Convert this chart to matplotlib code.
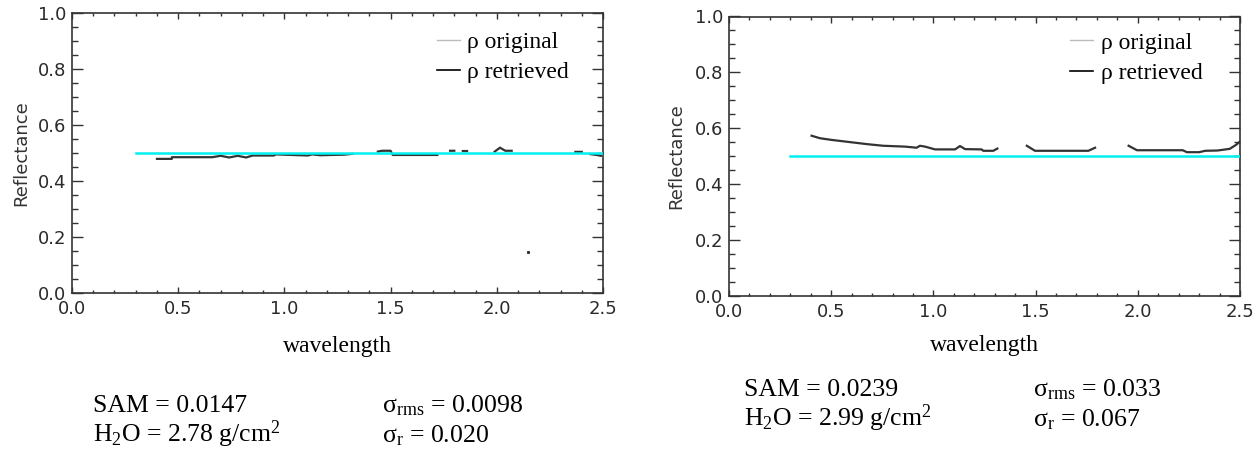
import numpy as np
import matplotlib
matplotlib.use("Agg")
import matplotlib.pyplot as plt
from matplotlib.lines import Line2D
from matplotlib.ticker import MultipleLocator, FormatStrFormatter

plt.rcParams['mathtext.fontset'] = 'custom'
plt.rcParams['mathtext.rm'] = 'Liberation Serif'
plt.rcParams['mathtext.it'] = 'Liberation Serif:italic'

nan = np.nan

# ---- data ----
orig_w = [0.30, 2.50]
orig_r = [0.50, 0.50]

left_w = [0.40, 0.47, 0.47, 0.66, 0.70, 0.74, 0.78, 0.82, 0.85, 0.95, 0.96, 1.11, 1.13, 1.17,
          1.22, 1.28, 1.32, nan, 1.44, 1.46, 1.50, 1.51, 1.72, nan, 1.78, 1.80, nan, 1.84, 1.86,
          nan, 1.99, 2.015, 2.04, 2.07, nan, 2.37, 2.40, nan, 2.44, 2.47, 2.49]
left_r = [0.479, 0.479, 0.485, 0.485, 0.490, 0.484, 0.490, 0.484, 0.491, 0.491, 0.495, 0.491,
          0.495, 0.492, 0.493, 0.494, 0.497, nan, 0.505, 0.508, 0.508, 0.493, 0.493, nan, 0.508,
          0.508, nan, 0.507, 0.507, nan, 0.505, 0.519, 0.508, 0.508, nan, 0.504, 0.504, nan,
          0.496, 0.493, 0.490]
left_stray_w = [2.147]
left_stray_r = [0.147]

right_w = [0.404, 0.445, 0.502, 0.559, 0.616, 0.673, 0.755, 0.861, 0.918, 0.934, 0.959, 1.008,
           1.106, 1.130, 1.155, 1.236, 1.244, 1.293, 1.313, nan,
           1.457, 1.497, 1.758, 1.791, nan,
           1.955, 1.996, 2.22, 2.24, 2.30, 2.33, 2.39, 2.45, 2.48, 2.50]
right_r = [0.573, 0.564, 0.558, 0.553, 0.548, 0.543, 0.537, 0.534, 0.530, 0.537, 0.534, 0.524,
           0.524, 0.536, 0.525, 0.524, 0.519, 0.519, 0.527, nan,
           0.537, 0.519, 0.519, 0.530, nan,
           0.537, 0.521, 0.521, 0.514, 0.514, 0.519, 0.520, 0.526, 0.540, 0.552]

legend_labels = ["ρ original", "ρ retrieved"]
left_stats = ["SAM = 0.0147", "H$_2$O = 2.78 g/cm$^2$", "σ$_{\\rm rms}$ = 0.0098", "σ$_{\\rm r}$ = 0.020"]
right_stats = ["SAM = 0.0239", "H$_2$O = 2.99 g/cm$^2$", "σ$_{\\rm rms}$ = 0.033", "σ$_{\\rm r}$ = 0.067"]

W, H = 1260, 450
fig = plt.figure(figsize=(12.6, 4.5), dpi=100)

def make_axes(rect_px, ylab_x, xlab_y, leg_anchor):
    x0, y0, x1, y1 = rect_px
    ax = fig.add_axes([x0 / W, 1 - y1 / H, (x1 - x0) / W, (y1 - y0) / H])
    ax.set_xlim(0, 2.5)
    ax.set_ylim(0, 1.0)
    ax.xaxis.set_major_locator(MultipleLocator(0.5))
    ax.xaxis.set_minor_locator(MultipleLocator(0.1))
    ax.yaxis.set_major_locator(MultipleLocator(0.2))
    ax.yaxis.set_minor_locator(MultipleLocator(0.05))
    ax.xaxis.set_major_formatter(FormatStrFormatter('%.1f'))
    ax.yaxis.set_major_formatter(FormatStrFormatter('%.1f'))
    ax.tick_params(which='both', direction='in', top=True, right=True, color='#333333',
                   width=1.0, labelcolor='#2a2a2a', labelsize=13)
    ax.tick_params(axis='y', which='major', length=8, pad=4)
    ax.tick_params(axis='y', which='minor', length=4)
    ax.tick_params(axis='x', which='major', length=4.5, pad=5)
    ax.tick_params(axis='x', which='minor', length=2.3)
    for s in ax.spines.values():
        s.set_color('#333333')
        s.set_linewidth(1.2)
    ax.set_ylabel("Reflectance", fontsize=13, family='DejaVu Sans', color='#333333')
    ax.yaxis.set_label_coords(ylab_x, 0.5)
    ax.yaxis.label.set_va('center')
    ax.set_xlabel("wavelength", fontsize=17, family='Liberation Serif')
    ax.xaxis.set_label_coords(0.5, xlab_y)
    ax.xaxis.label.set_va('center')
    handles = [Line2D([], [], color='#bbbbbb', lw=1.0), Line2D([], [], color='black', lw=1.2)]
    ax.legend(handles, legend_labels, loc='upper left', bbox_to_anchor=leg_anchor,
              frameon=False, prop={'family': 'Liberation Serif', 'size': 17},
              handlelength=1.0, handletextpad=0.3, borderpad=0, borderaxespad=0,
              labelspacing=0.37)
    return ax

axL = make_axes((72, 13, 603, 293), -0.096, -0.192, (0.687, 0.934))
axR = make_axes((729, 16.5, 1240, 295.7), -0.104, -0.177, (0.667, 0.944))

axL.plot(orig_w, orig_r, color='#00f0f0', lw=1.8, zorder=3)
axL.plot(left_w, left_r, color='#333333', lw=1.6, zorder=2)
axL.plot(left_stray_w, left_stray_r, ls='none', marker='s', ms=1.2, color='#333333')

axR.plot(orig_w, orig_r, color='#00f0f0', lw=1.8, zorder=3)
axR.plot(right_w, right_r, color='#333333', lw=1.6, zorder=2)

def stats(texts, xs, ys):
    kw = dict(fontsize=18.5, family='Liberation Serif', va='baseline', ha='left')
    fig.text(xs[0] / W, 1 - ys[0] / H, texts[0], **kw)
    fig.text(xs[0] / W, 1 - ys[1] / H, texts[1], **kw)
    fig.text(xs[1] / W, 1 - ys[0] / H, texts[2], **kw)
    fig.text(xs[1] / W, 1 - ys[1] / H, texts[3], **kw)

stats(left_stats, (93, 382), (412, 442))
stats(right_stats, (744, 1033), (396, 426))

fig.savefig("out.png", dpi=100)
